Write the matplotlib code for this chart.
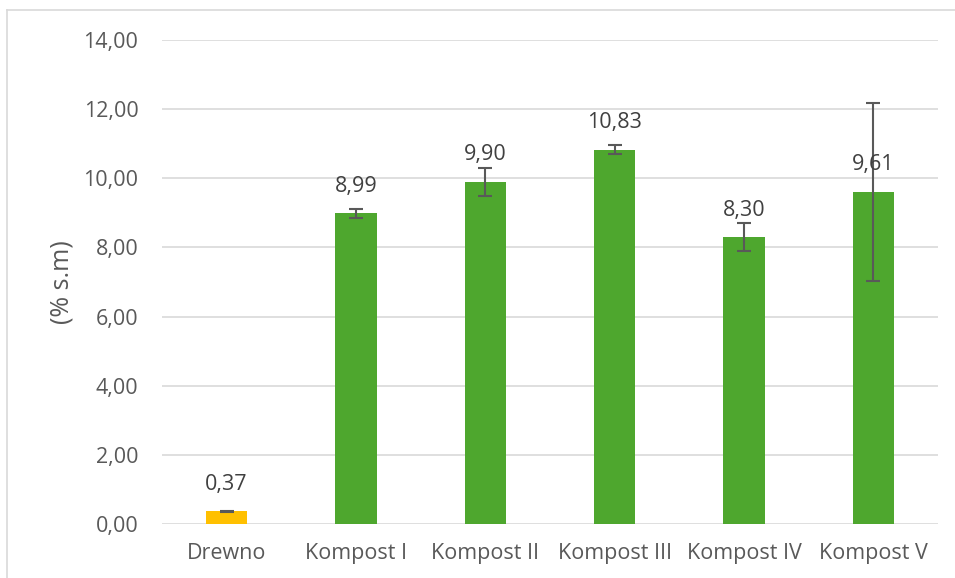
import matplotlib
matplotlib.use("Agg")
import matplotlib.pyplot as plt
from matplotlib.lines import Line2D

categories = ["Drewno", "Kompost I", "Kompost II", "Kompost III", "Kompost IV", "Kompost V"]
values = [0.37, 8.99, 9.90, 10.83, 8.30, 9.61]
errors = [0.02, 0.13, 0.40, 0.14, 0.40, 2.57]
colors = ["#FFC000", "#4EA72E", "#4EA72E", "#4EA72E", "#4EA72E", "#4EA72E"]
yticks = [0, 2, 4, 6, 8, 10, 12, 14]

plt.rcParams['font.family'] = ['Open Sans', 'DejaVu Sans']
text_color = "#595959"

fig = plt.figure(figsize=(9.55, 5.78), dpi=100)
ax = fig.add_axes([162/955, 1-524/578, (938-162)/955, (524-40)/578])

x = list(range(len(categories)))
ax.bar(x, values, width=0.32, color=colors, zorder=3,
       yerr=errors, error_kw=dict(ecolor="#595959", elinewidth=1.5, capsize=5, capthick=1.5, zorder=4))

for xi, v in zip(x, values):
    ax.annotate(f"{v:.2f}".replace(".", ","), (xi, v), xytext=(0, 27), textcoords="offset pixels",
                ha="center", va="center", fontsize=15.5, color="#404040", zorder=5)

ax.set_xlim(-0.5, len(categories) - 0.5)
ax.set_ylim(0, 14)
ax.set_yticks(yticks)
ax.set_yticklabels([f"{t:.2f}".replace(".", ",") for t in yticks])
ax.set_xticks(x)
ax.set_xticklabels(categories)
ax.tick_params(axis="both", length=0, labelsize=15.5, colors=text_color)
ax.tick_params(axis="y", pad=17)
ax.tick_params(axis="x", pad=14)
ax.grid(axis="y", color="#D9D9D9", linewidth=1.2, zorder=0)
for s in ax.spines.values():
    s.set_visible(False)
ax.set_ylabel("(% s.m)", fontsize=18, color=text_color)
ax.yaxis.set_label_coords(-(162-74)/776, 0.5)

fig.add_artist(Line2D([7/955, 7/955], [0, 1-10/578], color="#D9D9D9", linewidth=1.2, transform=fig.transFigure))
fig.add_artist(Line2D([7/955, 1], [1-10/578, 1-10/578], color="#D9D9D9", linewidth=1.2, transform=fig.transFigure))

fig.savefig("out.png", dpi=100)
